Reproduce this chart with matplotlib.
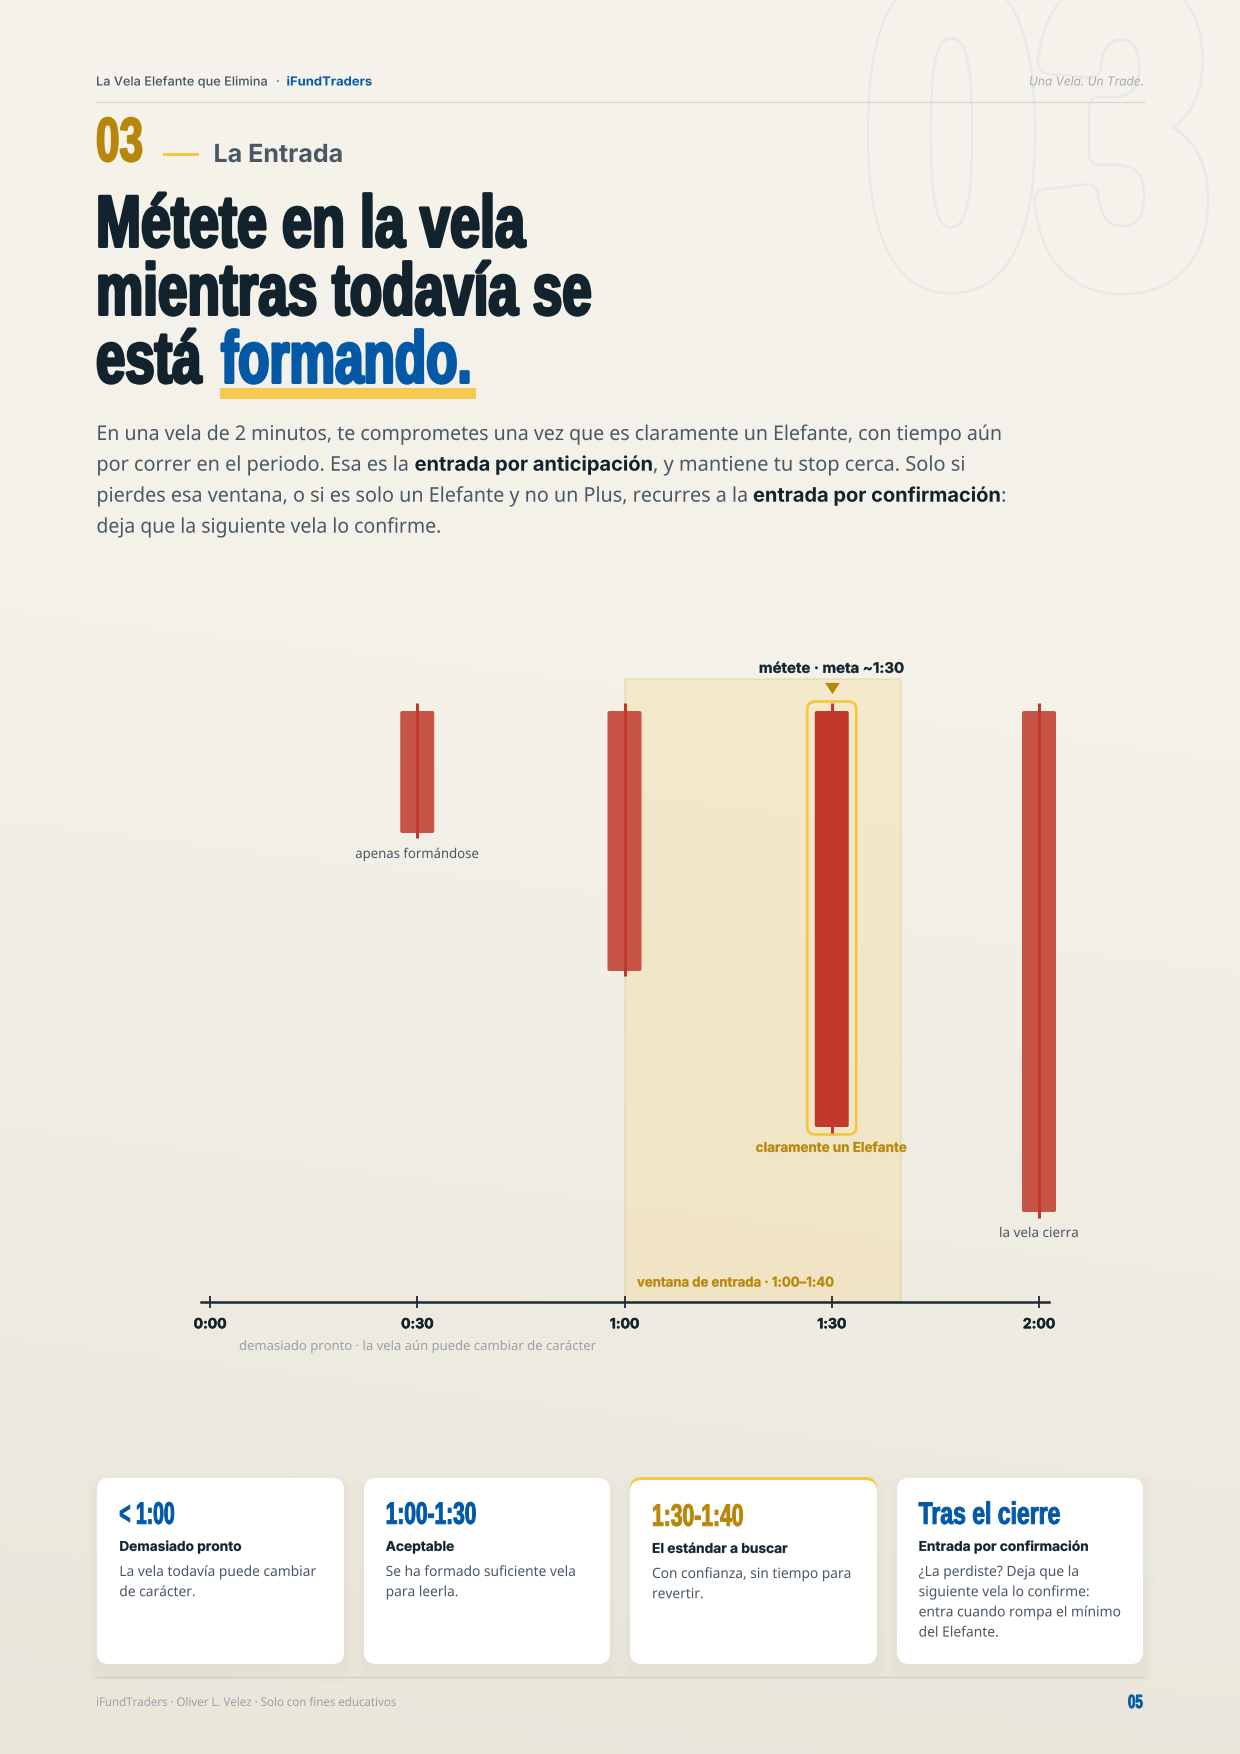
import numpy as np
import matplotlib
matplotlib.use('Agg')
import matplotlib.pyplot as plt
import matplotlib.patheffects as pe
from matplotlib import font_manager
from matplotlib.patches import FancyBboxPatch, Rectangle
from matplotlib.transforms import Affine2D

# chart values (time in seconds, candle heights in units above the time axis)
TIME_TICKS = [0, 30, 60, 90, 120]
TIME_LABELS = ['0:00', '0:30', '1:00', '1:30', '2:00']
CANDLE_TIMES = [30, 60, 90, 120]
BODY_TOP = [591, 591, 591, 591]
BODY_BOTTOM = [469, 331, 175, 90]
WICK_TOP = [599, 599, 599, 599]
WICK_BOTTOM = [464, 326, 169, 84]
WINDOW_START = 60
WINDOW_END = 100
TARGET_TIME = 90

# texts
TITLE_LINES = ['Métete en la vela', 'mientras todavía se', 'está']
CARD_HEADS = ['< 1:00', '1:00-1:30', '1:30-1:40', 'Tras el cierre']
CARD_SUBS = ['Demasiado pronto', 'Aceptable', 'El estándar a buscar', 'Entrada por confirmación']
CARD_BODIES = [
    ['La vela todavía puede cambiar', 'de carácter.'],
    ['Se ha formado suficiente vela', 'para leerla.'],
    ['Con confianza, sin tiempo para', 'revertir.'],
    ['¿La perdiste? Deja que la', 'siguiente vela lo confirme:', 'entra cuando rompa el mínimo', 'del Elefante.'],
]

W, H = 1240, 1754
INK = '#12232e'
SLATE = '#4a5866'
BLUE = '#0459a6'
GOLD = '#b8860b'
YELLOW = '#f5c842'
RED = '#c0392b'

names = {f.name for f in font_manager.fontManager.ttflist}
HEAD = 'Liberation Sans Narrow' if 'Liberation Sans Narrow' in names else 'Liberation Sans'
BODY = 'Noto Sans'
UI = 'Inter'


class Fit(pe.AbstractPathEffect):
    """Rescales glyphs around an anchor and fattens them a little."""

    def __init__(self, px, py, sx=1, sy=1, grow=0):
        super().__init__()
        self.px, self.py, self.sx, self.sy, self.grow = px, py, sx, sy, grow

    def draw_path(self, renderer, gc, tpath, affine, rgbFace=None):
        t = affine + Affine2D().translate(-self.px, -self.py).scale(self.sx, self.sy).translate(self.px, self.py)
        if self.grow:
            g = renderer.new_gc()
            g.copy_properties(gc)
            g.set_linewidth(self.grow)
            g.set_foreground(rgbFace)
            g.set_joinstyle('round')
            renderer.draw_path(g, tpath, t, rgbFace)
            g.restore()
        else:
            renderer.draw_path(gc, tpath, t, rgbFace)


class Ghost(pe.AbstractPathEffect):
    """Outline only, on top of the page colour."""

    def __init__(self, px, py, sy, grow, line, paper):
        super().__init__()
        self.px, self.py, self.sy, self.grow, self.line, self.paper = px, py, sy, grow, line, paper

    def draw_path(self, renderer, gc, tpath, affine, rgbFace=None):
        t = affine + Affine2D().translate(-self.px, -self.py).scale(1, self.sy).translate(self.px, self.py)
        for lw, col in [(self.grow + 5, self.line), (self.grow, self.paper)]:
            g = renderer.new_gc()
            g.copy_properties(gc)
            g.set_linewidth(lw * 0.72)
            g.set_foreground(col)
            g.set_joinstyle('round')
            renderer.draw_path(g, tpath, t, matplotlib.colors.to_rgb(self.paper))
            g.restore()


fig = plt.figure(figsize=(W / 100, H / 100), dpi=100)
renderer = fig.canvas.get_renderer()

# page background
bg = fig.add_axes([0, 0, 1, 1])
yy, xx = np.mgrid[0:1:400j, 0:1:280j]
t = 0.92 * yy + 0.08 * (1 - xx)
stops = np.array([[0xf6, 0xf3, 0xec], [0xf4, 0xf1, 0xe9], [0xea, 0xe6, 0xda]]) / 255
img = np.dstack([np.interp(t, [0, 0.4, 1], stops[:, i]) for i in range(3)])
bg.imshow(img, aspect='auto', extent=[0, 1, 0, 1], interpolation='bilinear')
bg.axis('off')

page = fig.add_axes([0, 0, 1, 1], facecolor='none')
page.set_xlim(0, W)
page.set_ylim(H, 0)
page.axis('off')


def put(x, y, s, px, color, family=BODY, weight='normal', style='normal', ha='left',
        width=None, sx=None, grow=0, ax=page):
    up = grow / 2 if ax is page else -grow / 2
    txt = ax.text(x, y - up, s, fontsize=px * 0.72, color=color, family=family, weight=weight,
                  style=style, ha=ha, va='baseline', clip_on=False)
    if width is not None:
        sx = (width - grow) / txt.get_window_extent(renderer).width
    sy = 1
    if family == HEAD and sx:
        # condensed display face: smaller type stretched up to the full height
        txt.set_fontsize(px * 0.72 * sx)
        sy = 1 / sx
        used_sx = 1
    else:
        used_sx = sx or 1
    if used_sx != 1 or sy != 1 or grow:
        ax_x, ax_y = ax.transData.transform((x, y - up))
        txt.set_path_effects([Fit(ax_x, ax_y, used_sx, sy, grow * 0.72)])
    return sx


# big ghost number behind the header
ghost_x, ghost_y, ghost_px = 866, 279, 424
ghost = page.text(ghost_x, ghost_y, '03', fontsize=ghost_px * 0.72, family=HEAD, weight='bold', color='#e6e8e6',
                  ha='left', va='baseline', zorder=0)
ghost_sx = 343 / ghost.get_window_extent(renderer).width
ghost.set_fontsize(ghost_px * 0.72 * ghost_sx)
gx, gy = page.transData.transform((ghost_x, ghost_y))
ghost.set_path_effects([Ghost(gx, gy, 1 / ghost_sx, 18, '#e8e9e6', '#f5f2eb')])

# header
put(96, 85.5, 'La Vela Elefante que Elimina', 12.5, '#46535e', family=UI, weight=500, width=172)
put(276, 85.5, '·', 12.5, '#46535e', family=UI, weight=500)
put(286.5, 85.5, 'iFundTraders', 12.5, BLUE, family=UI, weight='bold', width=85.5)
put(1144, 85.5, 'Una Vela. Un Trade.', 12.5, '#a3aab1', family=UI, style='italic', ha='right', width=115)
page.plot([96, 1143.5], [102.3, 102.3], color='#d4d6d2', lw=0.9)

# section label
put(96, 162, '03', 62, GOLD, family=HEAD, weight='bold', width=49, grow=2)
page.add_patch(Rectangle((163, 152.8), 36, 3, color=YELLOW, lw=0))
put(213.5, 162, 'La Entrada', 25, SLATE, family=UI, weight='bold', width=130)

# title
TITLE_W = [432, 499, 108.5]
TITLE_Y = [248, 316, 384]
for line, w_, y_ in zip(TITLE_LINES, TITLE_W, TITLE_Y):
    put(96, y_, line, 73, INK, family=HEAD, weight='bold', width=w_, grow=3)
page.add_patch(Rectangle((220.3, 388), 255.7, 10.7, color='#f5ca50', lw=0))
put(221, 384, 'formando.', 73, BLUE, family=HEAD, weight='bold', width=254, grow=3)

# intro paragraph
put(96.4, 440, 'En una vela de 2 minutos, te comprometes una vez que es claramente un Elefante, con tiempo aún',
    20.3, SLATE, width=904.3)
put(96.4, 470.7, 'por correr en el periodo. Esa es la', 20.3, SLATE, width=313)
put(414.6, 470.7, 'entrada por anticipación', 20, INK, family=UI, weight='bold', width=238.4)
put(653, 470.7, ', y mantiene tu stop cerca. Solo si', 20.3, SLATE, width=312.6)
put(96.4, 501.7, 'pierdes esa ventana, o si es solo un Elefante y no un Plus, recurres a la', 20.3, SLATE, width=651)
put(753, 501.7, 'entrada por confirmación', 20, INK, family=UI, weight='bold', width=247.7)
put(1001, 501.7, ':', 20.3, SLATE)
put(96.4, 532.7, 'deja que la siguiente vela lo confirme.', 20.3, SLATE, width=345)

# chart, one unit up = one pixel
px_per_s = (1039 - 210) / 120
ax = fig.add_axes([201 / W, (H - 1302) / H, 847.5 / W, 662 / H], facecolor='none')
ax.set_xlim(-9 / px_per_s, 838.5 / px_per_s)
ax.set_ylim(0, 662)
for side in ['top', 'left', 'right']:
    ax.spines[side].set_visible(False)
ax.spines['bottom'].set_linewidth(1.8)
ax.spines['bottom'].set_color('#1c2b36')
ax.set_yticks([])
ax.set_xticks(TIME_TICKS)
ax.set_xticklabels(TIME_LABELS, family=UI, weight='bold', fontsize=14 * 0.72, color=INK)
ax.tick_params(axis='x', direction='inout', length=9, width=1.3, color='#1c2b36', pad=6.5)
for lab in ax.get_xticklabels():
    lab.set_path_effects([pe.withStroke(linewidth=0.3, foreground=INK)])

# entry window
ax.add_patch(Rectangle((WINDOW_START, 0), WINDOW_END - WINDOW_START, 623, facecolor=YELLOW, alpha=0.18, lw=0))
ax.add_patch(Rectangle((WINDOW_START, 0), WINDOW_END - WINDOW_START, 623, facecolor='none',
                       edgecolor=GOLD, alpha=0.15, lw=1.1))

# candles
half_body = 17 / px_per_s
for i, tm in enumerate(CANDLE_TIMES):
    on_target = tm == TARGET_TIME
    ax.add_patch(FancyBboxPatch((tm - half_body, BODY_BOTTOM[i]), 2 * half_body, BODY_TOP[i] - BODY_BOTTOM[i],
                                boxstyle=f'round,pad=0,rounding_size={2 / px_per_s}', mutation_aspect=px_per_s,
                                facecolor=RED, edgecolor='none', alpha=1 if on_target else 0.85, clip_on=False))
    ax.plot([tm, tm], [WICK_BOTTOM[i], WICK_TOP[i]], color=RED, lw=2.2, solid_capstyle='butt')
    if on_target:
        half_frame = 24.5 / px_per_s
        ax.add_patch(FancyBboxPatch((tm - half_frame, WICK_BOTTOM[i] - 1.5), 2 * half_frame,
                                    WICK_TOP[i] - WICK_BOTTOM[i] + 3,
                                    boxstyle=f'round,pad=0,rounding_size={8 / px_per_s}', mutation_aspect=px_per_s,
                                    facecolor='none', edgecolor='#f5c53c', lw=1.9))
ax.scatter([TARGET_TIME], [614.4], marker=[(-1, 0.77), (1, 0.77), (0, -0.77)], s=110, color=GOLD, lw=0)

# chart labels
put(TARGET_TIME, 629, 'métete · meta ~1:30', 14.5, INK, family=UI, weight='bold', ha='center', width=146, grow=0.35, ax=ax)
put(TARGET_TIME, 150, 'claramente un Elefante', 13.5, GOLD, family=UI, weight='bold', ha='center', width=152.5, grow=0.3, ax=ax)
put(30, 444, 'apenas formándose', 13.5, SLATE, ha='center', width=124, ax=ax)
put(120, 65, 'la vela cierra', 13.5, SLATE, ha='center', width=80, ax=ax)
put(61.8, 15.3, 'ventana de entrada · 1:00–1:40', 13.5, GOLD, family=UI, weight='bold', width=198.4, grow=0.3, ax=ax)
put(4.2, -48, 'demasiado pronto · la vela aún puede cambiar de carácter', 13, '#9aa2a9', width=358, ax=ax)

# cards
CARD_X = [[96.8, 344], [364, 610], [630, 877], [897, 1143]]
TEXT_X = [119.3, 385.7, 652, 918.6]
HEAD_W = [56.4, 91.8, 92.6, 143]
SUB_W = [123, 69, 137, 171]
FIRST_W = [197, 190.7, 199.6, 161]

# soft shadow under the cards
sy_, sx_ = np.mgrid[1440:1720, 60:1180]
shade = np.zeros(sx_.shape)
for x0, x1 in CARD_X:
    dx = np.maximum(np.maximum(x0 + 4 - sx_, sx_ - x1 + 4), 0)
    dy_ = np.maximum(np.maximum(1490 - sy_, sy_ - 1668), 0)
    shade = np.maximum(shade, 0.05 * np.exp(-(dx ** 2 + dy_ ** 2) / 110))
rgba = np.zeros(shade.shape + (4,))
rgba[..., :3] = matplotlib.colors.to_rgb('#5a5330')
rgba[..., 3] = shade
page.imshow(rgba, extent=[60, 1180, 1720, 1440], aspect='auto', zorder=0.5)

for i, (x0, x1) in enumerate(CARD_X):
    top = 1480 if i == 2 else 1478
    if i == 2:
        page.add_patch(FancyBboxPatch((x0, 1477), x1 - x0, 40, boxstyle='round,pad=0,rounding_size=12',
                                      facecolor=YELLOW, edgecolor='none'))
    page.add_patch(FancyBboxPatch((x0, top), x1 - x0, 1664 - top, boxstyle='round,pad=0,rounding_size=12',
                                  facecolor='white', edgecolor='none'))
    dy = 2 if i == 2 else 0
    put(TEXT_X[i], 1524.3 + dy, CARD_HEADS[i], 31, GOLD if i == 2 else BLUE, family=HEAD, weight='bold',
        width=HEAD_W[i], grow=1)
    put(TEXT_X[i], 1551 + dy, CARD_SUBS[i], 13.5, INK, family=UI, weight='bold', width=SUB_W[i], grow=0.25)
    sx = None
    for j, line in enumerate(CARD_BODIES[i]):
        y_ = 1576 + dy + 20.2 * j
        if j == 0:
            sx = put(TEXT_X[i], y_, line, 14.2, SLATE, width=FIRST_W[i])
        else:
            put(TEXT_X[i], y_, line, 14.2, SLATE, sx=sx)

# footer
page.plot([96, 1143.5], [1677.3, 1677.3], color='#cfcdc2', lw=0.9)
put(96, 1706, 'iFundTraders · Oliver L. Velez · Solo con fines educativos', 12, '#9aa2a9', width=300)
put(1128, 1708.4, '05', 19, BLUE, family=HEAD, weight='bold', width=15.5, grow=0.8)

fig.savefig('out.png', dpi=100)
